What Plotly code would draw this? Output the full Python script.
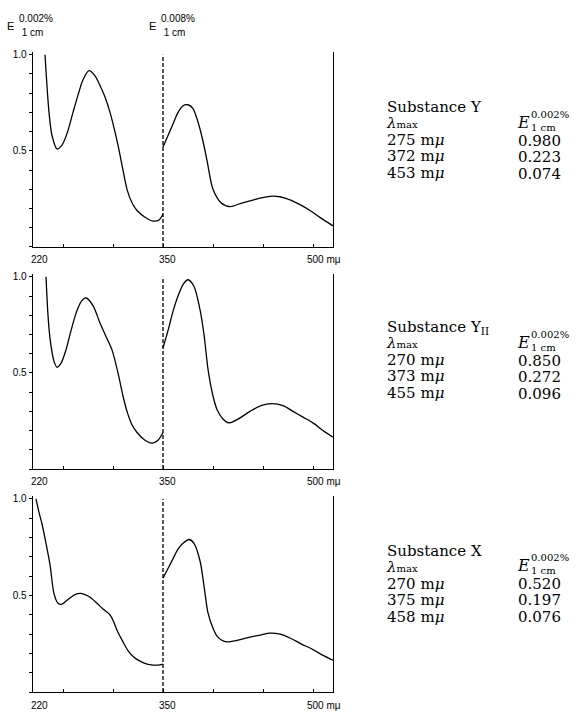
import plotly.graph_objects as go

W, H = 587, 713

# ---------------- data ----------------
# Substance Y
y_left_wl = [232, 236, 239, 244, 249, 254, 260, 265, 270, 276, 282, 287, 292, 297, 301, 305, 310, 314, 319, 324, 332, 340, 346, 350]
y_left_e = [1.0, 0.70, 0.58, 0.51, 0.53, 0.59, 0.70, 0.79, 0.87, 0.917, 0.89, 0.84, 0.78, 0.70, 0.62, 0.53, 0.40, 0.30, 0.23, 0.19, 0.155, 0.135, 0.14, 0.17]
y_right_wl = [350, 355, 360, 365, 370, 375, 380, 385, 390, 394, 400, 408, 417, 427, 437, 448, 459, 468, 477, 487, 497, 508, 520]
y_right_e = [0.52, 0.58, 0.64, 0.70, 0.735, 0.74, 0.72, 0.65, 0.55, 0.45, 0.30, 0.23, 0.21, 0.225, 0.24, 0.255, 0.265, 0.26, 0.245, 0.22, 0.19, 0.15, 0.11]

# Substance Y_II
y2_left_wl = [233, 235, 237, 241, 244, 248, 253, 258, 263, 268, 273, 280, 287, 293, 299, 305, 310, 314, 319, 324, 332, 339, 345, 350]
y2_left_e = [1.0, 0.80, 0.68, 0.56, 0.53, 0.55, 0.62, 0.72, 0.81, 0.87, 0.89, 0.85, 0.76, 0.69, 0.62, 0.50, 0.38, 0.30, 0.23, 0.19, 0.15, 0.135, 0.15, 0.19]
y2_right_wl = [350, 355, 360, 365, 370, 375, 381, 387, 391, 395, 400, 404, 410, 416, 425, 437, 448, 459, 470, 480, 490, 500, 510, 520]
y2_right_e = [0.63, 0.72, 0.82, 0.90, 0.96, 0.985, 0.95, 0.83, 0.70, 0.52, 0.38, 0.31, 0.26, 0.24, 0.26, 0.30, 0.33, 0.34, 0.33, 0.30, 0.27, 0.24, 0.20, 0.165]

# Substance X
x_left_wl = [223, 226, 229, 233, 237, 241, 245, 249, 254, 262, 269, 276, 284, 290, 297, 301, 304, 310, 315, 321, 327, 334, 340, 345, 350]
x_left_e = [1.0, 0.93, 0.87, 0.77, 0.66, 0.51, 0.46, 0.455, 0.475, 0.505, 0.51, 0.495, 0.46, 0.43, 0.40, 0.36, 0.32, 0.26, 0.215, 0.18, 0.16, 0.145, 0.14, 0.14, 0.145]
x_right_wl = [350, 355, 360, 365, 370, 376, 381, 387, 391, 395, 400, 404, 410, 415, 426, 437, 447, 457, 467, 477, 488, 500, 510, 520]
x_right_e = [0.59, 0.64, 0.69, 0.74, 0.77, 0.79, 0.77, 0.68, 0.55, 0.41, 0.33, 0.29, 0.265, 0.26, 0.27, 0.285, 0.295, 0.305, 0.30, 0.28, 0.25, 0.22, 0.19, 0.165]

x_tick_labels = ["220", "350", "500 mμ"]
x_tick_vals = [250, 300, 350, 400, 450, 500]
y_label_vals = [0.5, 1.0]
y_label_text = ["0.5", "1.0"]

tables = [
    ("Substance Y", ["275 mμ", "372 mμ", "453 mμ"], ["0.980", "0.223", "0.074"]),
    ("Substance Y<sub>II</sub>", ["270 mμ", "373 mμ", "455 mμ"], ["0.850", "0.272", "0.096"]),
    ("Substance X", ["270 mμ", "375 mμ", "458 mμ"], ["0.520", "0.197", "0.076"]),
]

series = [
    (y_left_wl, y_left_e, y_right_wl, y_right_e),
    (y2_left_wl, y2_left_e, y2_right_wl, y2_right_e),
    (x_left_wl, x_left_e, x_right_wl, x_right_e),
]

# ---------------- layout geometry (pixels) ----------------
plot_x0, plot_x1 = 33, 333
panels_px = [(52, 245), (275, 468), (498, 692)]  # (y of value 1.0, y of value 0)
table_top = [103, 324, 548]
x_label_px = [29, 167, 305]
x_label_anchor = ["left", "center", "left"]
ROW = 16.4               # line pitch of the tables, px
BASE = ROW / 1.3         # annotation base font size giving that pitch


def px(x):
    return x / W


def py(y):
    return 1 - y / H


fig = go.Figure()
annotations = []
shapes = []
SANS = "Liberation Sans, Arial, sans-serif"
SERIF = "DejaVu Serif, serif"
BLACK = "black"


def ann(x, y, text, size, family, anchor="left", yanchor="middle"):
    annotations.append(dict(xref="paper", yref="paper", x=px(x), y=py(y), text=text, showarrow=False,
                            xanchor=anchor, yanchor=yanchor, align="left",
                            font=dict(family=family, size=size, color=BLACK)))


def sized(s, size):
    return '<span style="font-size:%dpx">%s</span>' % (size, s)


for i, ((top, bot), (lw, le, rw, re)) in enumerate(zip(panels_px, series)):
    n = "" if i == 0 else str(i + 1)
    xa, ya = "x" + n, "y" + n
    for wl, e in ((lw, le), (rw, re)):
        fig.add_trace(go.Scatter(x=wl, y=e, mode="lines", xaxis=xa, yaxis=ya,
                                 line=dict(color=BLACK, width=1.3, shape="spline", smoothing=0.8),
                                 showlegend=False, hoverinfo="skip"))
    ymax = 1.015
    top_px = bot - (bot - top) * ymax
    fig.update_layout(**{
        ("xaxis" + n): dict(domain=[px(plot_x0), px(plot_x1)], range=[220, 520], anchor=ya,
                            showgrid=False, zeroline=False, showline=True, linecolor=BLACK, linewidth=1.3,
                            tickmode="array", tickvals=x_tick_vals, showticklabels=False,
                            ticks="inside", ticklen=3, tickcolor=BLACK, tickwidth=1, fixedrange=True),
        ("yaxis" + n): dict(domain=[py(bot), py(top_px)], range=[0, ymax], anchor=xa,
                            showgrid=False, zeroline=False, showline=True, linecolor=BLACK, linewidth=1.3,
                            mirror=True,
                            tickmode="array", tickvals=y_label_vals, ticktext=y_label_text,
                            ticks="outside", ticklen=3, tickcolor=BLACK, tickwidth=1,
                            minor=dict(dtick=0.1, tick0=0, ticks="outside", ticklen=3, tickcolor=BLACK,
                                       tickwidth=1, showgrid=False),
                            tickfont=dict(family=SANS, size=10, color=BLACK), fixedrange=True),
    })
    shapes.append(dict(type="line", xref=xa, yref=ya, x0=350, x1=350, y0=0, y1=1.0,
                       line=dict(color=BLACK, width=1.3, dash="4px,2px")))
    # x labels
    for lab, xl, anc in zip(x_tick_labels, x_label_px, x_label_anchor):
        ann(xl, bot + 13, lab, 10, SANS, anc)
    # table: left column as one multi-line text, values as another
    title, lams, vals = tables[i]
    t = table_top[i]
    left_lines = [sized(title, 15),
                  sized("<i>λ</i>", 15) + sized("max", 10)] + \
                 [sized(lm.replace("μ", "<i>μ</i>"), 15) for lm in lams]
    ann(384, t - ROW / 2 - 1, "<br>".join(left_lines), BASE, SERIF, yanchor="top")
    ann(516, t + 2 * ROW - ROW / 2, "<br>".join(sized(v, 15) for v in vals), BASE, SERIF, yanchor="top")
    ann(515, t + 17, "<i>E</i>", 16, SERIF)
    # stacked super/subscript of E as one two-line text (pitch 12.5 px)
    ann(529, t + 15, sized("0.002%", 10) + "<br>" + sized("1 cm", 10), 12.5 / 1.3, SERIF)

# header E labels
for x0, conc in ((5, "0.002%"), (147, "0.008%")):
    ann(x0, 23, "E", 11, SANS)
    ann(x0 + 12, 22.5, sized(conc, 10) + "<br>" + sized("&nbsp;1 cm", 10), 14 / 1.3, SANS)

fig.update_layout(width=W, height=H, margin=dict(l=0, r=0, t=0, b=0),
                  paper_bgcolor="white", plot_bgcolor="white",
                  annotations=annotations, shapes=shapes, showlegend=False)

fig.write_html("out.html", config={"displayModeBar": False, "staticPlot": True},
               post_script="document.body.style.margin='0';document.body.style.padding='0';")
